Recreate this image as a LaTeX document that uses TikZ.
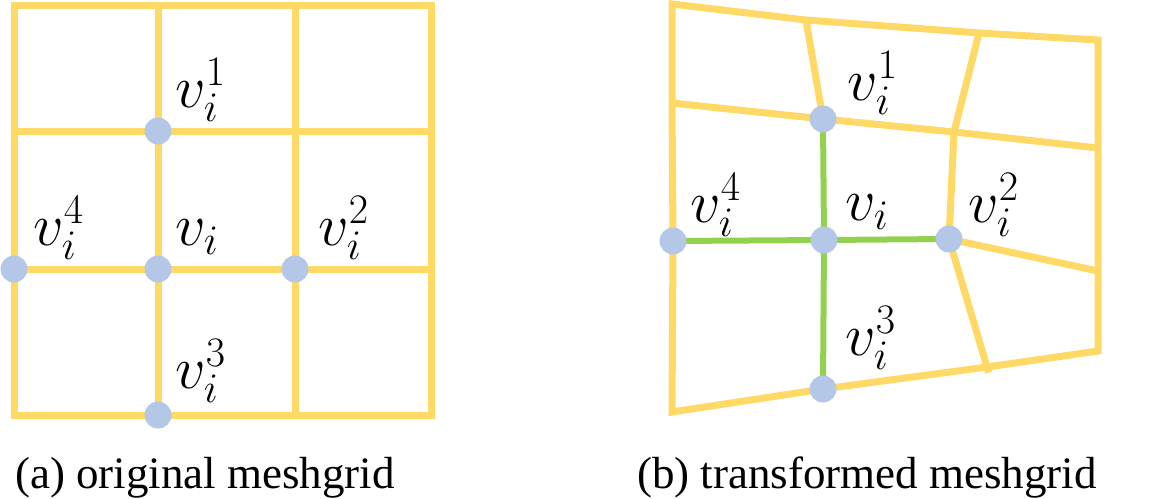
\RequirePackage{fix-cm}
\documentclass[tikz,border=0pt]{standalone}
\usepackage{fontspec}
\setmainfont{Liberation Serif}
\definecolor{meshy}{HTML}{FFD966}
\definecolor{meshg}{HTML}{92D050}
\definecolor{dotb}{HTML}{B4C7E7}
\begin{document}
\begin{tikzpicture}[x=0.5pt,y=-0.5pt,
  mesh/.style={draw=meshy, line width=3.5pt, line join=miter},
  warp/.style={draw=meshg, line width=3pt},
  vdot/.style={circle, fill=dotb, minimum size=13.5pt, inner sep=0pt},
  vlab/.style={anchor=base west, inner sep=0pt, font=\fontsize{30}{36}\selectfont},
  captxt/.style={anchor=base, inner sep=0pt, font=\fontsize{22.5}{27}\selectfont}]
\useasboundingbox (0,0) rectangle (1155,498);
% ---------- (a) original meshgrid ----------
\foreach \x/\n in {14/0,158/1,295/2,431/3}{
  \foreach \y/\m in {5/0,131/1,269/2,415/3}{
    \coordinate (a\n\m) at (\x,\y);
  }}
\draw[mesh] (a00) -- (a30) -- (a33) -- (a03) -- cycle;
\draw[mesh] (a10) -- (a13);
\draw[mesh] (a20) -- (a23);
\draw[mesh] (a01) -- (a31);
\draw[mesh] (a02) -- (a32);
\node[vdot] (av1) at (a11) {};
\node[vdot] (av4) at (a02) {};
\node[vdot] (avi) at (a12) {};
\node[vdot] (av2) at (a22) {};
\node[vdot] (av3) at (a13) {};
\node[vlab] (al1) at (175,107) {$v_i^1$};
\node[vlab] (al4) at (33,245) {$v_i^4$};
\node[vlab] (ali) at (175,245) {$v_i$};
\node[vlab] (al2) at (318,245) {$v_i^2$};
\node[vlab] (al3) at (175,388) {$v_i^3$};
\node[captxt] (capa) at (205,488) {(a) original meshgrid};
% ---------- (b) transformed meshgrid ----------
\coordinate (TL) at (672,4);
\coordinate (T1) at (806,20);
\coordinate (T2) at (979,33);
\coordinate (TR) at (1098,40);
\coordinate (ML) at (672,103);
\coordinate (P1) at (823,119);
\coordinate (M2) at (954,132);
\coordinate (MR) at (1098,148);
\coordinate (P4) at (673,241);
\coordinate (PI) at (824,240);
\coordinate (P2) at (949,239);
\coordinate (R3) at (1098,271);
\coordinate (BL) at (672,412);
\coordinate (P3) at (823,389);
\coordinate (B2) at (987,367);
\coordinate (BR) at (1098,351);
\draw[mesh] (TL) -- (T1) -- (T2) -- (TR) -- (MR) -- (R3) -- (BR) -- (B2) -- (P3) -- (BL) -- (P4) -- (ML) -- cycle;
\draw[mesh] (ML) -- (P1) -- (M2) -- (MR);
\draw[mesh] (T1) -- (P1);
\draw[mesh] (T2) -- (M2) -- (P2);
\draw[mesh] (P2) -- (R3);
\draw[mesh, shorten >=-3pt] (P2) -- (B2);
\draw[warp] (P4) -- (PI) -- (P2);
\draw[warp] (P1) -- (PI) -- (P3);
\node[vdot] (bv1) at (P1) {};
\node[vdot] (bv4) at (P4) {};
\node[vdot] (bvi) at (PI) {};
\node[vdot] (bv2) at (P2) {};
\node[vdot] (bv3) at (P3) {};
\node[vlab] (bl1) at (847,100) {$v_i^1$};
\node[vlab] (bl4) at (690,222) {$v_i^4$};
\node[vlab] (bli) at (845,220) {$v_i$};
\node[vlab] (bl2) at (968,222) {$v_i^2$};
\node[vlab] (bl3) at (845,355) {$v_i^3$};
\node[captxt] (capb) at (867,488) {(b) transformed meshgrid};
\end{tikzpicture}
\end{document}
